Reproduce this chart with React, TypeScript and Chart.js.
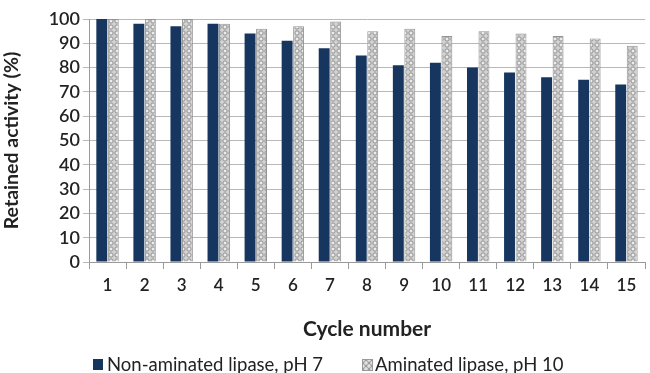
import React, { useEffect, useRef } from "react";
import { Chart, registerables } from "chart.js";

Chart.register(...registerables);

const cycles = ["1", "2", "3", "4", "5", "6", "7", "8", "9", "10", "11", "12", "13", "14", "15"];
const nonAminated = [100, 98, 97, 98, 94, 91, 88, 85, 81, 82, 80, 78, 76, 75, 73];
const aminated = [100, 100, 100, 98, 96, 97, 99, 95, 96, 93, 95, 94, 93, 92, 89];
const seriesNames = ["Non-aminated lipase, pH 7", "Aminated lipase, pH 10"];

const NAVY = "#17365f";

function makePattern(): CanvasPattern | string {
  const c = document.createElement("canvas");
  c.width = 6;
  c.height = 6;
  const g = c.getContext("2d");
  if (!g) return "#cfcfcf";
  g.fillStyle = "#d3d3d3";
  g.fillRect(0, 0, 6, 6);
  g.strokeStyle = "#969696";
  g.lineWidth = 1;
  g.beginPath();
  g.arc(3, 3, 2.2, 0, Math.PI * 2);
  g.stroke();
  g.fillStyle = "#ececec";
  g.fillRect(2, 2, 2, 2);
  const p = g.createPattern(c, "repeat");
  return p || "#cfcfcf";
}

export default function App() {
  const ref = useRef<HTMLCanvasElement | null>(null);

  useEffect(() => {
    document.body.style.margin = "0";
    const canvas = ref.current;
    if (!canvas) return;
    const pattern = makePattern();
    const chart = new Chart(canvas, {
      type: "bar",
      data: {
        labels: cycles,
        datasets: [
          {
            label: seriesNames[0],
            data: nonAminated,
            backgroundColor: NAVY,
            borderWidth: 0,
            categoryPercentage: 0.62,
            barPercentage: 0.95,
          },
          {
            label: seriesNames[1],
            data: aminated,
            backgroundColor: pattern as any,
            borderColor: "#949494",
            borderWidth: 1,
            categoryPercentage: 0.62,
            barPercentage: 0.95,
          },
        ],
      },
      options: {
        responsive: false,
        animation: false,
        layout: { padding: { top: 19, right: 5, bottom: 31, left: 0 } },
        plugins: {
          legend: { display: false },
          tooltip: { enabled: false },
        },
        scales: {
          x: {
            offset: true,
            grid: {
              display: true,
              drawOnChartArea: false,
              offset: true,
              color: "#9a9a9a",
              tickLength: 7,
            },
            border: { display: true, color: "#9a9a9a" },
            ticks: {
              color: "#222",
              font: { family: "Lato", size: 17, weight: "600" },
              padding: 6,
              maxRotation: 0,
              autoSkip: false,
            },
            title: {
              display: true,
              text: "Cycle number",
              color: "#222",
              font: { family: "Lato", size: 21, weight: "bold" },
              padding: { top: 10, bottom: 0 },
            },
            afterFit: (s: any) => {
              s.height = 80;
            },
          },
          y: {
            min: 0,
            max: 100,
            ticks: {
              stepSize: 10,
              autoSkip: false,
              color: "#222",
              font: { family: "Lato", size: 18, weight: "600" },
              padding: 3,
            },
            grid: {
              color: "#b8b8b8",
              tickLength: 6,
            },
            border: { display: true, color: "#9a9a9a" },
            title: {
              display: true,
              text: "Retained activity (%)",
              color: "#222",
              font: { family: "Lato", size: 19.5, weight: "bold" },
              padding: { top: 0, bottom: 4 },
            },
            afterFit: (s: any) => {
              s.width = 89;
            },
          },
        },
      },
    });
    return () => chart.destroy();
  }, []);

  const legendText: React.CSSProperties = {
    position: "absolute",
    top: 353,
    fontFamily: "Lato",
    fontSize: 18.5,
    lineHeight: "23px",
    color: "#222",
    whiteSpace: "nowrap",
  };
  const box: React.CSSProperties = {
    position: "absolute",
    top: 359,
    width: 10,
    height: 11,
  };

  return (
    <div style={{ position: "relative", width: 650, height: 373 }}>
      <canvas ref={ref} width={650} height={373} style={{ display: "block" }} />
      <span style={{ ...box, left: 93, background: NAVY }} />
      <span style={{ ...legendText, left: 107 }}>{seriesNames[0]}</span>
      <span
        style={{
          ...box,
          left: 362,
          width: 9,
          height: 10,
          border: "1px solid #9a9a9a",
          background: "repeating-radial-gradient(circle at 3px 3px, #ececec 0, #d3d3d3 1.5px, #969696 2.5px, #d3d3d3 3px)",
          backgroundSize: "6px 6px",
        }}
      />
      <span style={{ ...legendText, left: 375 }}>{seriesNames[1]}</span>
    </div>
  );
}
